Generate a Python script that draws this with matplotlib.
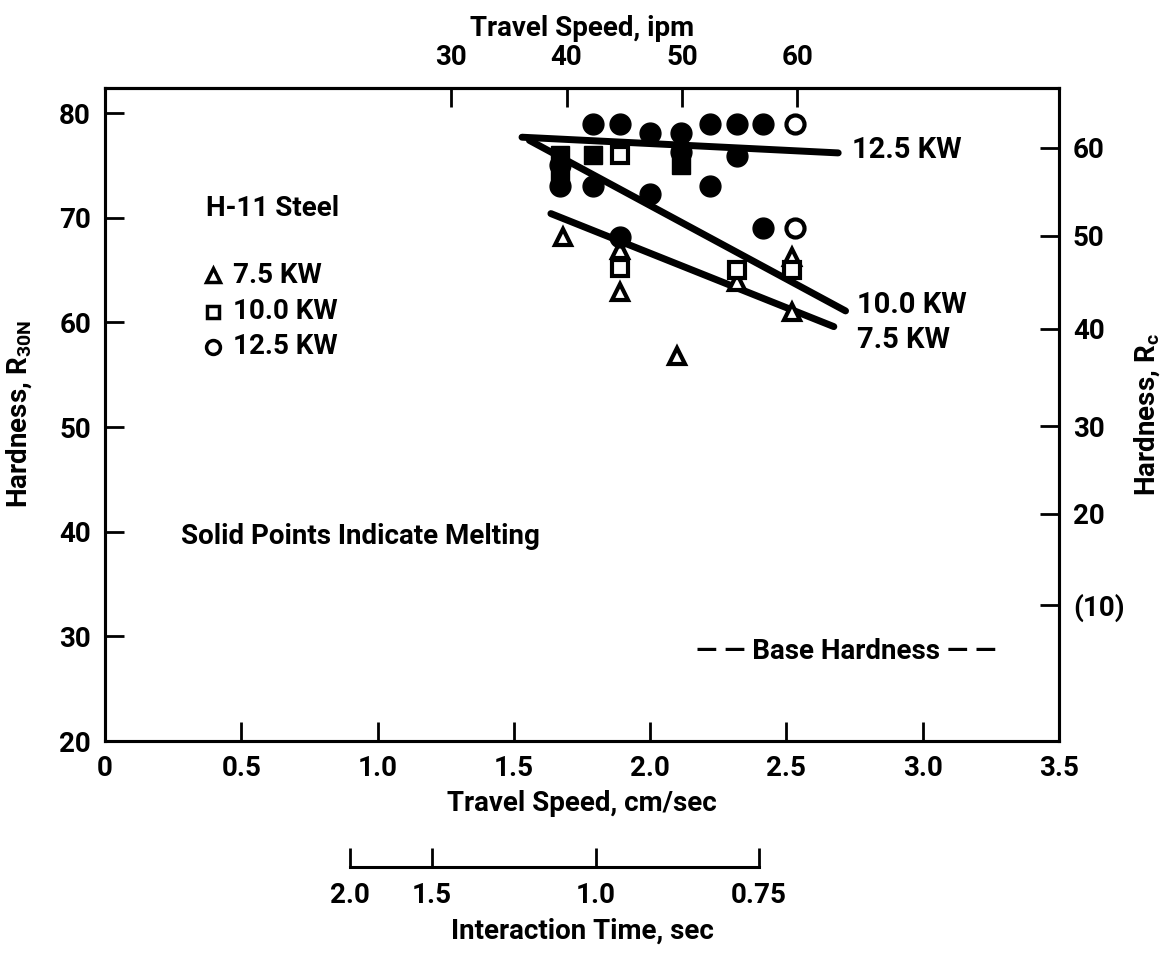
import numpy as np
import matplotlib.pyplot as plt

plt.rcParams['font.family'] = ['Roboto', 'DejaVu Sans']
plt.rcParams['font.weight'] = 'bold'
plt.rcParams['axes.labelweight'] = 'bold'
plt.rcParams['mathtext.fontset'] = 'custom'
plt.rcParams['mathtext.rm'] = 'Roboto:bold'
plt.rcParams['mathtext.it'] = 'Roboto:bold'
plt.rcParams['mathtext.bf'] = 'Roboto:bold'

# Datos: velocidad (cm/s) y dureza (R30N)
# puntos abiertos (sin fusion)
tri_open_v = [1.68, 1.89, 1.89, 2.10, 2.32, 2.52, 2.52]
tri_open_h = [68.2, 66.9, 62.9, 56.8, 63.9, 66.3, 61.0]
sq_open_v = [1.89, 1.89, 2.32, 2.52]
sq_open_h = [76.0, 65.2, 65.0, 65.0]
circ_open_v = [2.53, 2.53]
circ_open_h = [79.0, 69.0]

# puntos solidos (fusion)
sq_solid_v = [1.67, 1.67, 1.79, 2.115]
sq_solid_h = [76.0, 74.0, 76.0, 75.0]
circ_solid_v = [1.67, 1.67, 1.79, 1.89, 2.0, 2.115, 2.22, 2.32, 2.415,
                1.79, 2.0, 2.115, 2.22, 2.32, 1.89, 2.415]
circ_solid_h = [75.0, 73.0, 79.0, 79.0, 78.1, 78.1, 79.0, 79.0, 79.0,
                73.0, 72.3, 76.3, 73.0, 75.9, 68.2, 69.0]

# rectas de ajuste
line_125_v = [1.53, 2.69]
line_125_h = [77.7, 76.2]
line_100_v = [1.557, 2.717]
line_100_h = [77.4, 61.1]
line_75_v = [1.636, 2.674]
line_75_h = [70.4, 59.6]

# escalas secundarias
ipm_ticks = [30, 40, 50, 60]
rc_labels = ['60', '50', '40', '30', '20', '(10)']
rc_in_r30n = [76.7, 68.3, 59.4, 50.1, 41.7, 33.0]
t_ticks = [2.0, 1.5, 1.0, 0.75]
t_labels = ['2.0', '1.5', '1.0', '0.75']
spot_len = 1.8  # cm, tiempo = largo / velocidad

x_ticks = [0, 0.5, 1.0, 1.5, 2.0, 2.5, 3.0, 3.5]
x_labels = ['0', '0.5', '1.0', '1.5', '2.0', '2.5', '3.0', '3.5']
y_ticks = [20, 30, 40, 50, 60, 70, 80]

fs = 20
tick_len = 14
lw_sp = 2.2

fig = plt.figure(figsize=(11.65, 9.61), dpi=100)
ax = fig.add_axes([0.0901, 0.2289, 0.8189, 0.6795])
ax.set_xlim(0, 3.5)
ax.set_ylim(20, 82.4)

for s in ax.spines.values():
    s.set_linewidth(lw_sp)

ax.set_xticks(x_ticks)
ax.set_xticklabels(x_labels)
ax.set_yticks(y_ticks)
ax.tick_params(axis='both', direction='in', length=tick_len, width=2,
               labelsize=fs, pad=10)
ax.tick_params(axis='x', top=False)
ax.tick_params(axis='y', right=False)
ax.set_xlabel('Travel Speed, cm/sec', fontsize=fs, labelpad=6)
ax.set_ylabel('Hardness, R$_{30N}$', fontsize=fs, labelpad=18)

# lineas
ax.plot(line_125_v, line_125_h, color='black', lw=5, solid_capstyle='round')
ax.plot(line_100_v, line_100_h, color='black', lw=5, solid_capstyle='round')
ax.plot(line_75_v, line_75_h, color='black', lw=5, solid_capstyle='round')

# puntos
ax.plot(tri_open_v, tri_open_h, '^', ms=12, mfc='white', mec='black', mew=3, ls='none')
ax.plot(sq_open_v, sq_open_h, 's', ms=11, mfc='white', mec='black', mew=3, ls='none')
ax.plot(circ_open_v, circ_open_h, 'o', ms=13, mfc='white', mec='black', mew=3, ls='none')
ax.plot(sq_solid_v, sq_solid_h, 's', ms=13, color='black', ls='none')
ax.plot(circ_solid_v, circ_solid_h, 'o', ms=15, color='black', ls='none')

# etiquetas de rectas
ax.text(2.74, 76.5, '12.5 KW', fontsize=21, va='center')
ax.text(2.76, 61.7, '10.0 KW', fontsize=21, va='center')
ax.text(2.76, 58.3, '7.5 KW', fontsize=21, va='center')

# leyenda
ax.text(0.37, 70.9, 'H-11 Steel', fontsize=fs, va='center')
ax.plot([0.396], [64.5], '^', ms=10, mfc='white', mec='black', mew=2.5)
ax.plot([0.396], [61.0], 's', ms=9, mfc='white', mec='black', mew=2.5)
ax.plot([0.396], [57.7], 'o', ms=10, mfc='white', mec='black', mew=2.5)
ax.text(0.47, 64.5, '7.5 KW', fontsize=fs, va='center')
ax.text(0.47, 61.0, '10.0 KW', fontsize=fs, va='center')
ax.text(0.47, 57.7, '12.5 KW', fontsize=fs, va='center')

ax.text(0.28, 39.5, 'Solid Points Indicate Melting', fontsize=fs, va='center')
ax.text(2.17, 28.6, '\u2014 \u2014 Base Hardness \u2014 \u2014', fontsize=fs, va='center')

# eje derecho Rc
ax2 = ax.twinx()
ax2.set_ylim(ax.get_ylim())
ax2.set_yticks(rc_in_r30n)
ax2.set_yticklabels(rc_labels)
ax2.tick_params(axis='y', direction='in', length=tick_len, width=2,
                labelsize=fs, pad=10)
ax2.set_ylabel('Hardness, R$_c$', fontsize=fs, labelpad=6)
for s in ax2.spines.values():
    s.set_linewidth(lw_sp)

# eje superior ipm
top = ax.secondary_xaxis('top', functions=(lambda v: v * 60 / 2.54,
                                          lambda ipm: ipm * 2.54 / 60))
top.set_xticks(ipm_ticks)
top.tick_params(direction='in', length=tick_len, width=2, labelsize=fs, pad=12)
top.set_xlabel('Travel Speed, ipm', fontsize=fs, labelpad=6)
top.spines['top'].set_linewidth(lw_sp)

# eje de tiempo de interaccion
ax3 = fig.add_axes([0.0901, 0.0978, 0.8189, 0.0001])
ax3.set_xlim(0, 3.5)
ax3.patch.set_visible(False)
for k in ['top', 'left', 'right']:
    ax3.spines[k].set_visible(False)
ax3.spines['bottom'].set_linewidth(lw_sp)
ax3.spines['bottom'].set_bounds(spot_len / t_ticks[0], spot_len / t_ticks[-1])
ax3.set_xticks([spot_len / t for t in t_ticks])
ax3.set_xticklabels(t_labels)
ax3.set_yticks([])
ax3.tick_params(axis='x', direction='in', length=tick_len, width=2,
                labelsize=fs, pad=11)
ax3.set_xlabel('Interaction Time, sec', fontsize=fs, labelpad=6)

fig.savefig('out.png', dpi=100)
